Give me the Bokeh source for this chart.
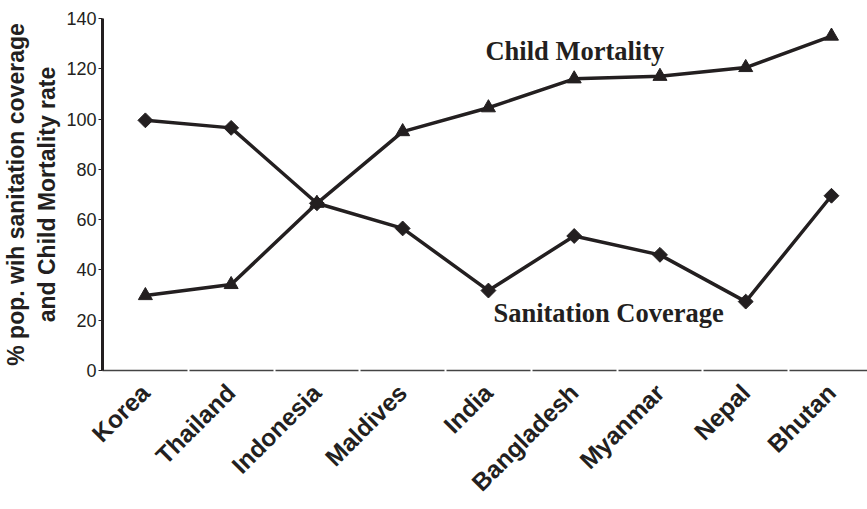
import math
from bokeh.plotting import figure
from bokeh.models import Range1d, FixedTicker, Label, ColumnDataSource
from bokeh.embed import file_html
from bokeh.resources import INLINE

countries = ["Korea", "Thailand", "Indonesia", "Maldives", "India",
             "Bangladesh", "Myanmar", "Nepal", "Bhutan"]
sanitation = [99.5, 96.5, 66.5, 56.5, 31.8, 53.5, 46.0, 27.4, 69.5]
child_mortality = [29.8, 34.2, 66.5, 95.0, 104.5, 116.0, 117.0, 120.5, 133.0]
y_ticks = [0, 20, 40, 60, 80, 100, 120, 140]

idx = list(range(len(countries)))
src = ColumnDataSource(dict(x=idx, san=sanitation, cm=child_mortality))

INK = "#231f20"

p = figure(width=867, height=509, output_backend="svg", toolbar_location=None,
           x_range=Range1d(-0.5, 8.42), y_range=Range1d(0, 140),
           min_border_left=102, min_border_right=0, min_border_top=18,
           min_border_bottom=139)
p.outline_line_color = None
p.grid.grid_line_color = None
p.background_fill_color = "white"

p.line("x", "san", source=src, line_color=INK, line_width=3.5)
p.scatter("x", "san", source=src, marker="square", size=10.5,
          angle=math.pi / 4, color=INK)
p.line("x", "cm", source=src, line_color=INK, line_width=3.5)
p.scatter("x", "cm", source=src, marker="triangle", size=14, color=INK)

# x axis
xa = p.xaxis[0]
xa.ticker = FixedTicker(ticks=idx, minor_ticks=[i + 0.5 for i in idx[:-1]])
xa.major_label_overrides = {i: c for i, c in zip(idx, countries)}
xa.major_label_orientation = math.pi / 4
xa.major_label_text_font = "Liberation Sans"
xa.major_label_text_font_style = "bold"
xa.major_label_text_font_size = "24.5px"
xa.major_label_text_color = INK
xa.major_label_standoff = 16
xa.axis_line_color = "#444444"
xa.axis_line_width = 1.5
xa.major_tick_line_color = None
xa.major_tick_in = 0
xa.major_tick_out = 0
xa.minor_tick_line_color = "white"
xa.minor_tick_line_width = 2
xa.minor_tick_in = 2
xa.minor_tick_out = 2

# y axis
ya = p.yaxis[0]
ya.ticker = FixedTicker(ticks=y_ticks, minor_ticks=[])
ya.axis_line_color = INK
ya.axis_line_width = 3
ya.major_tick_line_color = INK
ya.major_tick_line_width = 1
ya.major_tick_in = 0
ya.major_tick_out = 4
ya.minor_tick_line_color = None
ya.major_label_text_font = "Liberation Sans"
ya.major_label_text_font_size = "18px"
ya.major_label_text_color = INK
ya.major_label_standoff = 2
ya.axis_label = "% pop. wih sanitation coverage\nand Child Mortality rate"
ya.axis_label_text_font = "Liberation Sans"
ya.axis_label_text_font_style = "bold"
ya.axis_label_text_font_size = "23px"
ya.axis_label_text_color = INK
ya.axis_label_standoff = 3

p.add_layout(Label(x=3.965, y=127.0, text="Child Mortality",
                   text_font="Liberation Serif", text_font_style="bold",
                   text_font_size="26.5px", text_color=INK,
                   text_baseline="alphabetic"))
p.add_layout(Label(x=4.058, y=22.7, text="Sanitation Coverage",
                   text_font="Liberation Serif", text_font_style="bold",
                   text_font_size="26.5px", text_color=INK,
                   text_baseline="alphabetic"))

open("out.html", "w").write(file_html(p, INLINE))
